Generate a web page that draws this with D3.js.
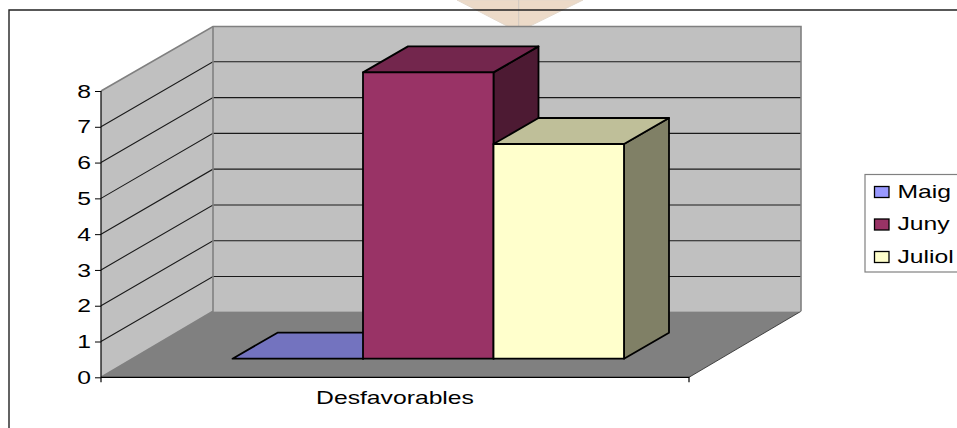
<!DOCTYPE html>
<html>
<head>
<meta charset="utf-8">
<script src="https://cdn.jsdelivr.net/npm/d3@7"></script>
<style>
  html, body { margin: 0; padding: 0; background: #fff; overflow: hidden; }
  text { font-family: "Liberation Sans", Arial, sans-serif; fill: #000; }
</style>
</head>
<body>
<svg id="chart" width="957" height="428"></svg>
<script>
const categories = ["Desfavorables"];
const seriesNames = ["Maig", "Juny", "Juliol"];
const seriesValues = [0, 8, 6];
const yTicks = [0, 1, 2, 3, 4, 5, 6, 7, 8];

const faceColors = ["#9999ff", "#993366", "#ffffcc"];
const topColors = ["#7373bf", "#73264d", "#bfbf99"];
const sideColors = ["#4d4d80", "#4d1a33", "#808066"];

const svg = d3.select("#chart");

// front plane of the 3d box, and how far the back wall is shifted from it
const front = { left: 101, right: 689, bottom: 377.3, top: 91 };
const wallShift = { x: 112, y: -65 };
const floorShiftY = -66;
const barShift = { x: 45, y: -26 };
const barBase = 358.7;
const fontSize = 19;
const textStretch = 1.3;

const yScale = d3.scaleLinear().domain([0, 8]).range([front.bottom, front.top]);
const barY = d3.scaleLinear().domain([0, 8]).range([barBase, barBase - (front.bottom - front.top)]);
const xCat = d3.scaleBand().domain(categories).range([front.left, front.right]);
const xBar = d3.scaleBand().domain(seriesNames).range([232.5, 624]);

const poly = (pts) => d3.line()(pts) + "Z";

// the reference text is stretched sideways
function stretchText(sel) {
  sel.each(function () {
    const w = this.getComputedTextLength();
    d3.select(this)
      .attr("textLength", w * textStretch)
      .attr("lengthAdjust", "spacingAndGlyphs");
  });
}

// peach shape from the page behind the chart
svg.append("path")
  .attr("d", poly([[457, 0], [509, 27], [528, 27], [583, 0]]))
  .attr("fill", "#ecdac8")
  .attr("stroke", "#e3d8cc");
svg.append("line")
  .attr("x1", 518.7).attr("x2", 518.7).attr("y1", 0).attr("y2", 27)
  .attr("stroke", "#cfc8c0");

// outer frame, open on the right and at the bottom
svg.append("path")
  .attr("d", "M957,10H9V428")
  .attr("fill", "none")
  .attr("stroke", "#222")
  .attr("stroke-width", 1.4);

const wallTop = front.top + wallShift.y + 0.5;
const wallBottom = front.bottom + floorShiftY;
const wallLeft = front.left + wallShift.x;
const wallRight = front.right + wallShift.x;

// floor
svg.append("path")
  .attr("d", poly([[front.left, front.bottom], [wallLeft, wallBottom], [wallRight, wallBottom], [front.right, front.bottom]]))
  .attr("fill", "#808080");
svg.append("line")
  .attr("x1", front.right).attr("y1", front.bottom)
  .attr("x2", wallRight).attr("y2", wallBottom)
  .attr("stroke", "#222").attr("stroke-width", 0.8);

// side wall and back wall
svg.append("path")
  .attr("d", poly([[front.left, front.top], [wallLeft, wallTop], [wallLeft, wallBottom], [front.left, front.bottom]]))
  .attr("fill", "#c0c0c0");
svg.append("rect")
  .attr("x", wallLeft).attr("y", wallTop)
  .attr("width", wallRight - wallLeft).attr("height", wallBottom - wallTop)
  .attr("fill", "#c0c0c0");

// gridlines run along both walls
const gridVals = yTicks.filter((d) => d > 0 && d < 8);
svg.append("g").selectAll("path").data(gridVals).join("path")
  .attr("d", (d) => {
    const y = yScale(d);
    return d3.line()([[front.left, y], [wallLeft, y + wallShift.y], [wallRight, y + wallShift.y]]);
  })
  .attr("fill", "none")
  .attr("stroke", "#1a1a1a")
  .attr("stroke-width", 1.1);

// wall edges
svg.append("path")
  .attr("d", d3.line()([[front.left, front.top], [wallLeft, wallTop], [wallRight, wallTop], [wallRight, wallBottom]]))
  .attr("fill", "none").attr("stroke", "#808080").attr("stroke-width", 1.6);
svg.append("path")
  .attr("d", d3.line()([[wallLeft, wallTop], [wallLeft, wallBottom], [front.left, front.bottom]]))
  .attr("fill", "none").attr("stroke", "#808080").attr("stroke-width", 1.6);

// bars, drawn left to right so each one covers the side of the one before
const bars = svg.append("g")
  .attr("stroke", "#000")
  .attr("stroke-width", 1.8)
  .attr("stroke-linejoin", "round");

seriesNames.forEach((name, i) => {
  const x0 = xBar(name);
  const x1 = x0 + xBar.bandwidth();
  const yTop = barY(seriesValues[i]);
  const g = bars.append("g");
  // side face
  g.append("path")
    .attr("d", poly([[x1, barBase], [x1 + barShift.x, barBase + barShift.y], [x1 + barShift.x, yTop + barShift.y], [x1, yTop]]))
    .attr("fill", sideColors[i]);
  // top face
  g.append("path")
    .attr("d", poly([[x0, yTop], [x0 + barShift.x, yTop + barShift.y], [x1 + barShift.x, yTop + barShift.y], [x1, yTop]]))
    .attr("fill", topColors[i]);
  // front face
  g.append("rect")
    .attr("x", x0).attr("y", yTop)
    .attr("width", x1 - x0).attr("height", barBase - yTop)
    .attr("fill", faceColors[i]);
});

// axes
const yAxis = svg.append("g")
  .attr("transform", `translate(${front.left},0)`)
  .call(d3.axisLeft(yScale).tickValues(yTicks).tickFormat(d3.format("d")).tickSize(6).tickPadding(4));
yAxis.select(".domain").attr("stroke", "#000").attr("stroke-width", 1.2).attr("d", `M0,${front.top}V${front.bottom}`);
yAxis.selectAll("line").attr("stroke", "#000");
yAxis.selectAll("text")
  .attr("font-size", fontSize).attr("font-family", null)
  .call(stretchText);

const xAxis = svg.append("g")
  .attr("transform", `translate(0,${front.bottom})`)
  .call(d3.axisBottom(xCat).tickSize(0).tickPadding(13));
xAxis.select(".domain").attr("stroke", "#000").attr("stroke-width", 1.2).attr("d", `M${front.left},0V5M${front.left},0H${front.right}V5`);
xAxis.selectAll("text")
  .attr("font-size", fontSize).attr("font-family", null)
  .call(stretchText);

// legend, runs off the right side of the picture
const legend = svg.append("g");
legend.append("rect")
  .attr("x", 865).attr("y", 174.5).attr("width", 120).attr("height", 97.5)
  .attr("fill", "#fff").attr("stroke", "#808080").attr("stroke-width", 1.2);
const legendY = d3.scalePoint().domain(seriesNames).range([192, 257]);
const items = legend.selectAll("g").data(seriesNames).join("g")
  .attr("transform", (d) => `translate(0,${legendY(d)})`);
items.append("rect")
  .attr("x", 874.5).attr("y", -5.5).attr("width", 14.5).attr("height", 11)
  .attr("fill", (d, i) => faceColors[i])
  .attr("stroke", "#000").attr("stroke-width", 1.3);
items.append("text")
  .attr("x", 897.5).attr("y", 5.5)
  .attr("font-size", fontSize)
  .text((d) => d)
  .call(stretchText);
</script>
</body>
</html>
